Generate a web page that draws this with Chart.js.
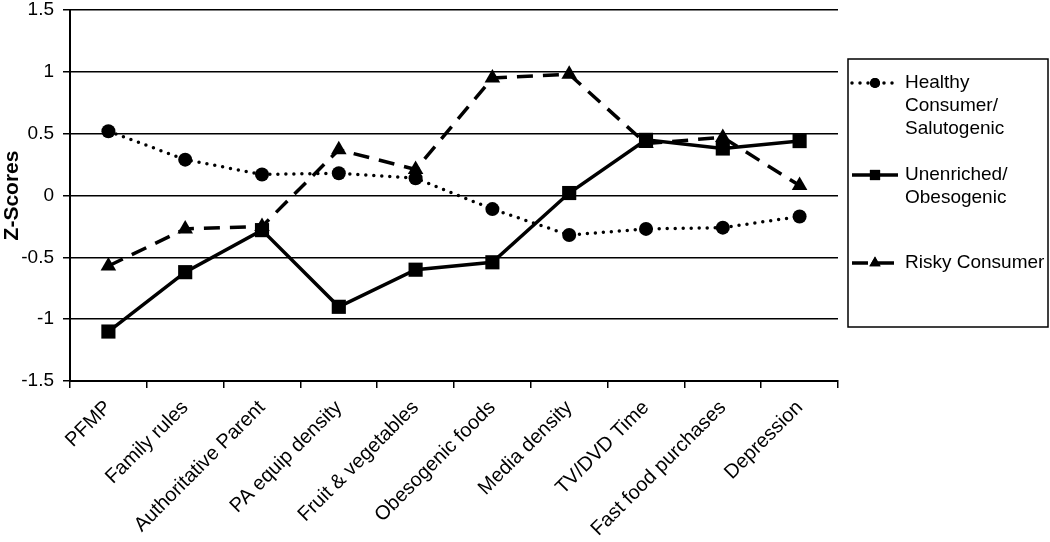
<!DOCTYPE html>
<html>
<head>
<meta charset="utf-8">
<script src="https://cdn.jsdelivr.net/npm/chart.js@4/dist/chart.umd.min.js"></script>
<style>
  html, body { margin: 0; padding: 0; background: #fff; }
  #wrap { width: 1050px; height: 542px; position: relative; }
</style>
</head>
<body>
<div id="wrap"><canvas id="chartZ"></canvas></div>
<script>
/* Z-scores by household profile, line chart */

const categories = ["PFMP", "Family rules", "Authoritative Parent", "PA equip density",
  "Fruit & vegetables", "Obesogenic foods", "Media density", "TV/DVD Time",
  "Fast food purchases", "Depression"];
const healthyValues    = [0.52, 0.29, 0.17, 0.18, 0.14, -0.11, -0.32, -0.27, -0.26, -0.17];
const unenrichedValues = [-1.10, -0.62, -0.28, -0.90, -0.60, -0.54, 0.02, 0.45, 0.38, 0.44];
const riskyValues      = [-0.57, -0.27, -0.25, 0.37, 0.21, 0.95, 0.98, 0.42, 0.47, 0.08];
const yTicks = [-1.5, -1, -0.5, 0, 0.5, 1, 1.5];
const seriesNames = [["Healthy", "Consumer/", "Salutogenic"], ["Unenriched/", "Obesogenic"], ["Risky Consumer"]];

const FONT = "'Liberation Sans', Arial, sans-serif";

// legend drawn by hand: box on the right, multi-line labels
const boxLegend = {
  id: "boxLegend",
  afterDraw(chart) {
    const c = chart.ctx;
    c.save();
    c.strokeStyle = "#000";
    c.lineWidth = 1.5;
    c.strokeRect(848, 59, 200, 268);
    const rows = [83, 175, 263];
    c.font = "19px " + FONT;
    c.textBaseline = "middle";
    c.fillStyle = "#000";
    chart.data.datasets.forEach((ds, i) => {
      const y = rows[i];
      c.beginPath();
      c.lineWidth = ds.borderWidth;
      c.setLineDash(ds.borderDash || []);
      c.lineCap = ds.borderCapStyle || "butt";
      c.moveTo(852, y);
      c.lineTo(898, y);
      c.stroke();
      c.setLineDash([]);
      c.lineCap = "butt";
      Chart.helpers.drawPoint(c, { pointStyle: ds.pointStyle, radius: ds.pointRadius * 0.72, borderWidth: 0 }, 875, y);
      c.fill();
      seriesNames[i].forEach((t, k) => c.fillText(t, 905, y + k * 23));
    });
    c.restore();
  }
};

new Chart(document.getElementById("chartZ"), {
  type: "line",
  data: {
    labels: categories,
    datasets: [
      {
        label: "Healthy Consumer/ Salutogenic",
        data: healthyValues,
        borderColor: "#000",
        backgroundColor: "#000",
        borderWidth: 3.5,
        borderDash: [0, 8],
        borderCapStyle: "round",
        pointStyle: "circle",
        pointRadius: 7,
        pointBorderWidth: 0,
        tension: 0,
      },
      {
        label: "Unenriched/ Obesogenic",
        data: unenrichedValues,
        borderColor: "#000",
        backgroundColor: "#000",
        borderWidth: 3.5,
        pointStyle: "rect",
        pointRadius: 10,
        pointBorderWidth: 0,
        tension: 0,
      },
      {
        label: "Risky Consumer",
        data: riskyValues,
        borderColor: "#000",
        backgroundColor: "#000",
        borderWidth: 3.5,
        borderDash: [16, 10],
        pointStyle: "triangle",
        pointRadius: 9,
        pointBorderWidth: 0,
        tension: 0,
      },
    ],
  },
  options: {
    responsive: true,
    maintainAspectRatio: false,
    animation: false,
    layout: { padding: { top: 7, right: 212, left: 0, bottom: 0 } },
    plugins: {
      legend: { display: false },
      tooltip: { enabled: false },
    },
    scales: {
      x: {
        offset: true,
        afterFit: (s) => { s.height = 161; },
        grid: { offset: true, drawOnChartArea: false, color: "#000", lineWidth: 1.5, tickLength: 7 },
        border: { color: "#000", width: 2 },
        ticks: {
          autoSkip: false,
          minRotation: 45,
          maxRotation: 45,
          padding: 8,
          color: "#000",
          font: { family: FONT, size: 20 },
        },
      },
      y: {
        min: -1.5,
        max: 1.5,
        afterFit: (s) => { s.width = 70; s.paddingTop = 0; s.paddingBottom = 0; },
        afterBuildTicks: (s) => { s.ticks = yTicks.map((v) => ({ value: v })); },
        grid: { color: "#000", lineWidth: 1.5, tickLength: 7 },
        border: { color: "#000", width: 2 },
        title: {
          display: true,
          text: "Z-Scores",
          color: "#000",
          font: { family: FONT, size: 21, weight: "bold" },
          padding: 0,
        },
        ticks: {
          color: "#000",
          padding: 9,
          font: { family: FONT, size: 19 },
          callback: (v) => String(v),
        },
      },
    },
  },
  plugins: [boxLegend],
});
</script>
</body>
</html>
